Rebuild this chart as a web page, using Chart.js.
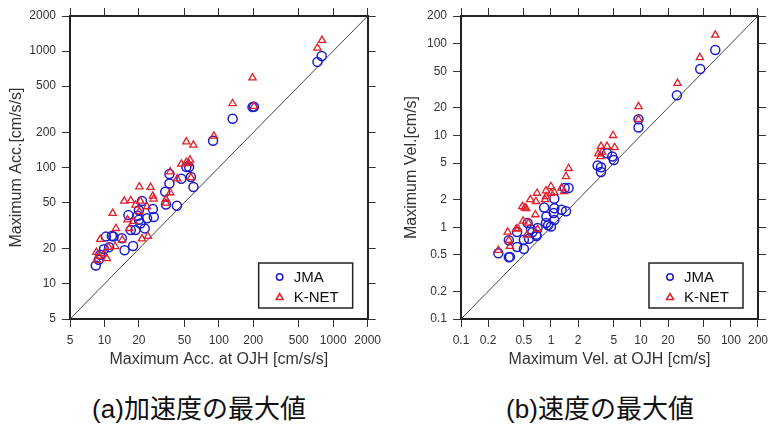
<!DOCTYPE html>
<html>
<head>
<meta charset="utf-8">
<script src="https://cdn.jsdelivr.net/npm/chart.js@4/dist/chart.umd.min.js"></script>
<style>
  body { margin: 0; background: #fff; }
  #wrap { position: relative; width: 774px; height: 424px; overflow: hidden; }
  canvas { position: absolute; top: 0; }
  .cap { position: absolute; top: 396px; width: 300px; text-align: center;
         font: 26px/26px "Liberation Sans", "Noto Sans CJK JP", sans-serif; color: #111; }
</style>
</head>
<body>
<div id="wrap">
  <canvas id="accChart" width="387" height="380" style="left:0"></canvas>
  <canvas id="velChart" width="387" height="380" style="left:387px"></canvas>
  <div class="cap" style="left:49px">(a)加速度の最大値</div>
  <div class="cap" style="left:450px">(b)速度の最大値</div>
</div>
<script>
// 軸の目盛り
const accTicks = [5, 10, 20, 50, 100, 200, 500, 1000, 2000];
const velTicks = [0.1, 0.2, 0.5, 1, 2, 5, 10, 20, 50, 100, 200];

// (a) 加速度 [cm/s/s]  x = OJH, y = 観測点
const accJmaX = [728, 793, 197, 203, 132, 89, 55, 52, 57, 60, 47, 37, 37, 34, 34.5, 43, 26.5, 27, 23.6, 21.3, 20, 20, 20.6, 22.5, 18.7, 16.2, 17, 17.8, 15, 14.2, 12, 11.6, 10.3, 11, 9.9, 9.2, 8.9, 8.4, 19.5];
const accJmaY = [807, 908, 330, 332, 262, 170, 101, 101, 83, 68, 80, 88, 73, 62, 48, 47, 44, 37.6, 36.6, 51.5, 43, 35.5, 33, 30, 29, 39, 29, 21.2, 19.5, 24.7, 25.5, 25.8, 25.5, 20.7, 19.9, 17.8, 16.1, 14.4, 38.5];
const accKnetX = [798, 728, 197, 132, 203, 90.6, 52, 60, 56, 52, 47, 54.5, 37.6, 57, 43.3, 37.6, 34.5, 34.5, 20.2, 25.3, 26.5, 26.9, 14.9, 17, 20.6, 18.7, 23.6, 20.2, 11.8, 15.9, 18, 12.6, 16.5, 9.2, 14.3, 21.3, 24, 10.9, 12.4, 8.5, 9.9, 8.9, 10.5, 8.6];
const accKnetY = [1237, 1063, 589, 355, 336, 186, 166, 156, 116, 111, 107, 108, 92, 82, 80, 60.8, 53.3, 49.6, 68.4, 67.6, 56.9, 53.7, 51.5, 52, 51.5, 47.7, 46.1, 41.8, 40.4, 35.5, 34.5, 30, 30, 24.2, 23.9, 24.4, 25.7, 20.7, 21, 18.7, 18.2, 17.4, 16.5, 16];

// (b) 速度 [cm/s]
const velJmaX = [67, 45.6, 25.1, 9.4, 9.4, 5.0, 4.8, 4.2, 3.3, 3.6, 3.6, 1.57, 1.42, 1.09, 1.47, 1.31, 1.09, 0.84, 0.89, 0.88, 1.07, 1.09, 1.0, 0.71, 0.69, 0.69, 0.6, 0.55, 0.5, 0.42, 0.57, 0.5, 0.42, 0.34, 0.26, 0.34, 0.35, 0.93, 0.62];
const velJmaY = [85.3, 53, 27.4, 15, 12.2, 5.4, 5.9, 6.4, 4.7, 4.5, 4.0, 2.67, 2.67, 2.04, 1.49, 1.55, 1.61, 1.64, 1.31, 1.11, 1.43, 1.2, 1.02, 0.98, 0.83, 0.8, 0.95, 1.11, 0.73, 0.885, 0.75, 0.58, 0.61, 0.72, 0.52, 0.47, 0.475, 1.05, 0.88];
const velKnetX = [67, 45.2, 25.5, 9.4, 9.4, 4.9, 5.1, 4.2, 3.6, 3.35, 3.55, 3.7, 1.57, 1.47, 1.31, 1.4, 1.0, 0.88, 1.09, 1.0, 0.88, 0.86, 0.7, 0.68, 0.59, 0.48, 0.53, 0.51, 0.67, 0.56, 0.49, 0.41, 0.43, 0.33, 0.34, 0.35, 0.26, 0.71, 0.54];
const velKnetY = [124, 70.4, 37, 20.6, 15, 10, 7.4, 7.6, 7.6, 6.3, 5.9, 6.6, 4.37, 3.57, 2.67, 2.45, 2.78, 2.5, 2.4, 2.35, 2.16, 2.0, 2.35, 1.91, 2.0, 1.68, 1.6, 1.63, 1.37, 1.11, 1.17, 0.955, 0.97, 0.885, 0.72, 0.62, 0.56, 0.95, 0.82];

const BLUE = '#1c1ccc';
const RED = '#e0202a';
const INK = '#222';
const SANS = '"Liberation Sans", Arial, sans-serif';

function pts(xs, ys) {
  return xs.map((x, i) => ({ x: x, y: ys[i] }));
}

// 凡例（枠の右下）
const boxLegend = {
  id: 'boxLegend',
  afterDraw(chart) {
    const ctx = chart.ctx;
    const a = chart.chartArea;
    const w = 94, h = 45;
    const x0 = a.right - 15 - w, y0 = a.bottom - 11 - h;
    ctx.save();
    ctx.fillStyle = '#fff';
    ctx.fillRect(x0, y0, w, h);
    ctx.strokeStyle = INK;
    ctx.lineWidth = 1.5;
    ctx.strokeRect(x0, y0, w, h);
    const sets = chart.data.datasets.filter(d => d.label);
    sets.forEach((d, i) => {
      const cx = x0 + 21, cy = y0 + 14 + i * 20;
      ctx.strokeStyle = d.borderColor;
      ctx.lineWidth = 1.5;
      ctx.beginPath();
      if (d.pointStyle === 'triangle') {
        ctx.moveTo(cx, cy - 3.5);
        ctx.lineTo(cx + 3.5, cy + 2.5);
        ctx.lineTo(cx - 3.5, cy + 2.5);
        ctx.closePath();
      } else {
        ctx.arc(cx, cy, 3.2, 0, Math.PI * 2);
      }
      ctx.stroke();
      ctx.fillStyle = '#111';
      ctx.font = '15px ' + SANS;
      ctx.textBaseline = 'middle';
      ctx.fillText(d.label, x0 + 35, cy + 1);
    });
    ctx.restore();
  }
};

function logAxis(ticks, pos, size, show, title, titlePad) {
  const horiz = pos === 'top' || pos === 'bottom';
  return {
    type: 'logarithmic',
    position: pos,
    min: ticks[0],
    max: ticks[ticks.length - 1],
    afterBuildTicks: s => { s.ticks = ticks.map(v => ({ value: v })); },
    afterFit: s => { if (horiz) s.height = size; else s.width = size; },
    ticks: {
      display: show,
      autoSkip: false,
      maxRotation: 0,
      padding: horiz ? 6 : 6,
      color: '#333',
      font: { family: SANS, size: 12 },
      callback: v => String(v)
    },
    grid: { drawOnChartArea: false, tickLength: 8, color: '#333', lineWidth: 1 },
    border: { display: true, color: INK, width: 2 },
    title: {
      display: !!title,
      text: title,
      color: '#333',
      font: { family: SANS, size: 16 },
      padding: titlePad
    }
  };
}

function makePanel(id, ticks, jx, jy, kx, ky, xTitle, yTitle, leftW, rightW, yTitlePad) {
  const lo = ticks[0], hi = ticks[ticks.length - 1];
  return new Chart(document.getElementById(id).getContext('2d'), {
    type: 'scatter',
    data: {
      datasets: [
        {
          label: 'JMA',
          data: pts(jx, jy),
          pointStyle: 'circle',
          pointRadius: 4.5,
          borderColor: BLUE,
          backgroundColor: 'rgba(0,0,0,0)',
          borderWidth: 1.5,
          order: 2
        },
        {
          label: 'K-NET',
          data: pts(kx, ky),
          pointStyle: 'triangle',
          pointRadius: 4.2,
          borderColor: RED,
          backgroundColor: 'rgba(0,0,0,0)',
          borderWidth: 1.3,
          order: 1
        },
        {
          type: 'line',
          label: '',
          data: [{ x: lo, y: lo }, { x: hi, y: hi }],
          borderColor: '#444',
          borderWidth: 1,
          pointRadius: 0,
          order: 10
        }
      ]
    },
    options: {
      responsive: false,
      animation: false,
      layout: { padding: 0 },
      plugins: { legend: { display: false }, tooltip: { enabled: false } },
      scales: {
        x: logAxis(ticks, 'bottom', 61, true, xTitle, { top: 0, bottom: 10.4 }),
        x2: logAxis(ticks, 'top', 16, false, ''),
        y: logAxis(ticks, 'left', leftW, true, yTitle, { top: yTitlePad, bottom: 0 }),
        y2: logAxis(ticks, 'right', rightW, false, '')
      }
    },
    plugins: [boxLegend]
  });
}

makePanel('accChart', accTicks, accJmaX, accJmaY, accKnetX, accKnetY,
  'Maximum Acc. at OJH [cm/s/s]', 'Maximum Acc.[cm/s/s]', 70, 15, 7.4);
makePanel('velChart', velTicks, velJmaX, velJmaY, velKnetX, velKnetY,
  'Maximum Vel. at OJH [cm/s]', 'Maximum Vel.[cm/s]', 74, 12, 15.4);
</script>
</body>
</html>
